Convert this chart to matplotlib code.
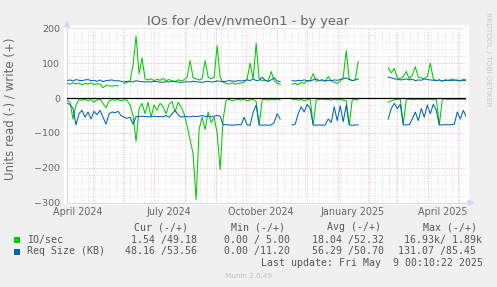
import numpy as np
import pandas as pd
import matplotlib
matplotlib.use('Agg')
import matplotlib.pyplot as plt
import matplotlib.dates as mdates
import matplotlib.transforms as mtransforms
from matplotlib.patches import Rectangle, Polygon
from datetime import datetime

nan = np.nan

# munin "by year" graph, one value every 3 days
start = datetime(2024, 4, 5, 8, 0)
end = datetime(2025, 5, 9, 0, 10)
dates = pd.date_range(start, periods=134, freq='3D')

# write side (+)
write_io = [42, 40, 44, 41, 43, 38, 42, 40, 44, 39, 41, 40, 30, 36, 35, 34, 36, 35,
            nan,
            42, 45, 50, 95, 178, 70, 115, 55,
            52, 55, 50, 54, 51, 56, 50, 53, 49, 48, 52, 50,
            52, 60, 108, 58, 55, 52, 55, 108, 60, 55, 60, 150, 60, 45, 42, 40, 44, 40, 42, 43, 45,
            55, 100, 55, 157, 55, 50, 52, 48, 76, 50, 42, 40,
            nan, nan, nan,
            40, 42, 38, 45, 42, 48, 50, 70, 48, 50, 52, 48, 62, 50, 45, 42, 48, 60, 136, 55, 50, 52, 105,
            nan, nan, nan, nan, nan, nan, nan, nan, nan,
            86, 72, 85, 58, 55, 62, 76, 55, 65, 90, 60, 58, 55, 62, 100, 55, 50,
            52, 48, 53, 50, 55, 51, 52, 50, 54, 52]

write_size = [50, 52, 49, 53, 51, 50, 52, 53, 50, 51, 48, 52, 47, 50, 51, 52, 49, 50,
              48,
              46, 48, 47, 46, 50, 48, 47, 46,
              47, 46, 48, 47, 46, 45, 47, 46, 48, 47, 46, 45, 46, 47,
              46, 48, 47, 46, 45, 47, 48, 46, 47, 49, 48, 47, 48, 50, 49, 48, 50, 49, 50,
              52, 50, 55, 50, 51, 60, 50, 48, 52, 58, 49, 47,
              nan, nan, nan,
              50, 49, 51, 50, 52, 50, 49, 52, 55, 50, 52, 49, 51, 50, 52, 51, 53, 55, 58, 53, 50, 52, 55,
              nan, nan, nan, nan, nan, nan, nan, nan, nan,
              60, 58, 55, 54, 52, 53, 55, 52, 54, 50, 52, 51, 55, 53, 52, 51, 50, 52, 49, 50, 51, 50,
              52, 50, 49, 51, 50]

# read side (-), stored as positive values
read_io = [5, 12, 60, 20, 4, 6, 3, 8, 4, 12, 5, 3, 15, 28, 8, 5, 6, 4,
           8, 5, 6, 20, 50, 124,
           30, 15, 45, 12, 55, 20, 35, 15, 25, 45, 18, 10, 40, 12, 25, 45, 80, 120, 160, 291,
           90, 55, 90, 40, 70, 55, 100, 205, 60,
           6, 4, 8, 5, 3, 6, 4, 8, 5, 4, 10, 77, 5, 3, 6, 4, 5, 3, 6,
           nan, nan, nan,
           5, 3, 6, 4, 8, 5, 4, 77, 6, 4, 3, 5, 4, 6, 3, 5, 4, 6, 8, 77, 5, 4, 6,
           nan, nan, nan, nan, nan, nan, nan, nan, nan,
           12, 8, 5, 4, 3, 75, 4, 3, 5, 4, 3, 5, 4, 3, 4, 5, 3, 77, 4, 3, 4, 3, 4, 3, 4, 3, 4]

read_size = [15, 18, 30, 77, 45, 35, 55, 40, 60, 38, 48, 35, 55, 75, 45, 40, 42, 38,
             50, 55, 58, 55, 75, 53,
             53, 52, 53, 54, 53, 52, 53, 53, 54, 50, 55, 45, 35, 48, 55, 52, 53, 54, 52, 53,
             52, 50, 53, 52, 54, 52, 50, 52, 77,
             76, 77, 78, 77, 76, 77, 55, 77, 78, 40, 20, 77, 78, 77, 78, 77, 70, 45, 60,
             nan, nan, nan,
             77, 75, 45, 25, 40, 18, 30, 77, 78, 77, 78, 77, 60, 70, 25, 65, 22, 68, 20, 77, 78, 77, 77,
             nan, nan, nan, nan, nan, nan, nan, nan, nan,
             60, 30, 15, 30, 18, 77, 77, 76, 60, 40, 65, 30, 55, 20, 45, 18, 35, 77, 77, 76, 77, 76,
             75, 40, 60, 35, 55]

month_labels = ['April 2024', 'July 2024', 'October 2024', 'January 2025', 'April 2025']
label_dates = [datetime(2024, 4, 16), datetime(2024, 7, 16), datetime(2024, 10, 16),
               datetime(2025, 1, 16), datetime(2025, 4, 16)]

headers = ['Cur (-/+)', 'Min (-/+)', 'Avg (-/+)', 'Max (-/+)']
io_stats = ['1.54 /49.18', '0.00 / 5.00', '18.04 /52.32', '16.93k/ 1.89k']
size_stats = ['48.16 /53.56', '0.00 /11.20', '56.29 /50.70', '131.07 /85.45']

W, H = 497, 287
def fx(px):
    return px / W
def fy(py):
    return 1 - py / H

green = '#00CC00'
blue = '#0066B3'
axis_col = '#CFD6F8'
font_col = '#555555'

fig = plt.figure(figsize=(W / 100, H / 100), dpi=100, facecolor='#F0F0F0')

# white canvas behind the plot
fig.add_artist(Rectangle((fx(64), fy(205)), fx(469) - fx(64), fy(25) - fy(205),
                         transform=fig.transFigure, facecolor='white', edgecolor='none', zorder=0))

ax = fig.add_axes([fx(67), fy(202.7), fx(466) - fx(67), fy(28.3) - fy(202.7)])
ax.set_facecolor('white')

ax.plot(dates, np.array(write_io), color=green, lw=0.75, zorder=3)
ax.plot(dates, -np.array(read_io), color=green, lw=0.75, zorder=3)
ax.plot(dates, np.array(write_size), color=blue, lw=0.75, zorder=4)
ax.plot(dates, -np.array(read_size), color=blue, lw=0.75, zorder=4)
ax.axhline(0, color='black', lw=0.9, zorder=5)

ax.set_xlim(start, end)
ax.set_ylim(-300, 200)

ax.xaxis.set_major_locator(mdates.MonthLocator())
ax.xaxis.set_minor_locator(mdates.WeekdayLocator(byweekday=mdates.FR))
ax.set_yticks([-300, -200, -100, 0, 100, 200])
ax.set_yticks(np.arange(-300, 201, 20), minor=True)
ax.set_xticklabels([])
ax.tick_params(axis='both', which='both', length=0)
ax.tick_params(axis='y', pad=5, labelsize=6.8, labelcolor='#666666')

# dotted grid, kept light like rrdtool's
ax.grid(which='minor', color='#E2E2E2', lw=0.72, linestyle=(0, (1, 1.4)), zorder=1)
ax.grid(which='major', color='#F2B6B6', lw=0.72, linestyle=(0, (1, 1.4)), zorder=2)
ax.set_axisbelow(True)

for s in ['top', 'right']:
    ax.spines[s].set_visible(False)
for s in ['left', 'bottom']:
    ax.spines[s].set_color(axis_col)
    ax.spines[s].set_linewidth(0.75)

# axis arrows
fig.add_artist(Polygon([(fx(64.5), fy(27)), (fx(69.5), fy(27)), (fx(67), fy(21.5))],
                       closed=True, transform=fig.transFigure, color=axis_col, zorder=6))
fig.add_artist(Polygon([(fx(468), fy(200.2)), (fx(468), fy(205.2)), (fx(473.5), fy(202.7))],
                       closed=True, transform=fig.transFigure, color=axis_col, zorder=6))

lab_trans = mtransforms.blended_transform_factory(ax.transData, fig.transFigure)
for lab, d in zip(month_labels, label_dates):
    ax.text(d, fy(215.3), lab, transform=lab_trans, ha='center', va='baseline',
            fontsize=6.9, color='#666666')

fig.text(fx(248), fy(25), 'IOs for /dev/nvme0n1 - by year', ha='center', va='baseline',
         fontsize=9.3, color='#666666')
fig.text(fx(10.5), fy(109), 'Units read (-) / write (+)', rotation=90, ha='center', va='center',
         fontsize=8.5, color='#666666')
fig.text(fx(488.3), fy(59), 'RRDTOOL / TOBI OETIKER', rotation=270, ha='center', va='center',
         fontsize=5.3, color='#C8C8C8')

# legend block
mono = 'DejaVu Sans Mono'
fs = 7.15
for h, x in zip(headers, [134.3, 230.7, 327.3, 422.7]):
    fig.text(fx(x), fy(230), h, fontsize=fs, family=mono, color=font_col, va='baseline')
for v, x in zip(io_stats, [131, 224, 311.7, 404.3]):
    fig.text(fx(x), fy(242.7), v, fontsize=fs, family=mono, color=font_col, va='baseline')
for v, x in zip(size_stats, [125, 224, 311.7, 398.3]):
    fig.text(fx(x), fy(254.3), v, fontsize=fs, family=mono, color=font_col, va='baseline')

fig.add_artist(Rectangle((fx(14), fy(242.7)), fx(6), 6 / H, transform=fig.transFigure,
                         facecolor=green, edgecolor='none'))
fig.add_artist(Rectangle((fx(14), fy(254.6)), fx(6), 6 / H, transform=fig.transFigure,
                         facecolor=blue, edgecolor='none'))
fig.text(fx(26.7), fy(242.7), 'IO/sec', fontsize=fs, family=mono, color=font_col, va='baseline')
fig.text(fx(26.7), fy(254.3), 'Req Size (KB)', fontsize=fs, family=mono, color=font_col, va='baseline')
fig.text(fx(482.7), fy(266), 'Last update: Fri May  9 00:10:22 2025', fontsize=fs, family=mono,
         color=font_col, ha='right', va='baseline')
fig.text(fx(248.5), fy(278.3), 'Munin 2.0.49', fontsize=5.2, color='#C0C0C0', ha='center', va='baseline')

fig.savefig('out.png', dpi=100, facecolor=fig.get_facecolor())
